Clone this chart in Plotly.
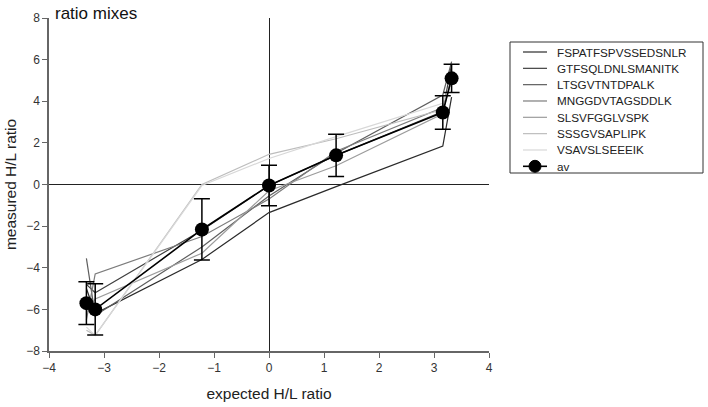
import plotly.graph_objects as go

expected = [-3.32, -3.16, -1.22, 0.0, 1.22, 3.16, 3.32]

peptides = ["FSPATFSPVSSEDSNLR", "GTFSQLDNLSMANITK", "LTSGVTNTDPALK",
            "MNGGDVTAGSDDLK", "SLSVFGGLVSPK", "SSSGVSAPLIPK", "VSAVSLSEEEIK"]

pep_values = [
    [-5.0, -6.2, -3.6, -1.35, -0.1, 1.85, 4.2],
    [-4.8, -5.2, -2.2, -0.05, 1.4, 3.5, 5.8],
    [-3.55, -6.3, -3.0, -0.55, 1.5, 4.3, 5.9],
    [-6.5, -4.3, -2.5, -0.7, 1.6, 3.7, 5.0],
    [-6.2, -5.5, -3.3, -0.3, 0.9, 3.4, 5.2],
    [-7.0, -7.25, 0.0, 1.45, 2.2, 3.6, 5.0],
    [-6.85, -7.25, -0.05, 1.25, 2.3, 3.9, 4.95],
]

pep_colors = ["#2a2a2a", "#404040", "#5e5e5e", "#7c7c7c", "#9c9c9c", "#bdbdbd", "#d8d8d8"]

av_values = [-5.7, -6.0, -2.16, -0.05, 1.4, 3.46, 5.1]
av_err = [1.03, 1.23, 1.47, 0.97, 1.02, 0.8, 0.68]

# target plot-area geometry in pixels
L, R, T, B = 49, 489, 18, 351
W_FIG, H_FIG = 708, 407


def px(xp):
    return (xp - L) / (R - L)


def py(yp):
    return (B - yp) / (B - T)


fig = go.Figure()
for name, vals, col in zip(peptides, pep_values, pep_colors):
    fig.add_trace(go.Scatter(x=expected, y=vals, mode="lines", name=name,
                             line=dict(color=col, width=1.2), showlegend=False))

fig.add_trace(go.Scatter(x=expected, y=av_values, mode="lines+markers", name="av",
                         line=dict(color="black", width=1.6),
                         marker=dict(color="black", size=14), showlegend=False,
                         error_y=dict(type="data", array=av_err, visible=True,
                                      color="black", thickness=1.5, width=8)))

axis_common = dict(showgrid=False, showline=True, linecolor="#666", linewidth=1.5,
                   ticks="outside", ticklen=5, tickcolor="#666", tickwidth=1,
                   zeroline=True, zerolinecolor="#222", zerolinewidth=1,
                   tickfont=dict(family="Liberation Sans, Arial", size=12, color="#333"),
                   mirror=False, automargin=False)

# manual legend (entries drawn in paper coordinates)
shapes = [dict(type="rect", xref="paper", yref="paper",
               x0=px(510), x1=px(703), y0=py(173), y1=py(42),
               line=dict(color="#333", width=1))]
annotations = [dict(text="ratio mixes", xref="paper", yref="paper",
                    x=px(53), y=py(13), xanchor="left", yanchor="middle",
                    showarrow=False, font=dict(size=17, color="#111"))]
labels = peptides + ["av"]
colors = pep_colors + ["black"]
for i, (lab, col) in enumerate(zip(labels, colors)):
    yy = 52 + i * 16.33
    shapes.append(dict(type="line", xref="paper", yref="paper",
                       x0=px(523), x1=px(547), y0=py(yy), y1=py(yy),
                       line=dict(color=col, width=1.6 if lab == "av" else 1.2)))
    annotations.append(dict(text=lab, xref="paper", yref="paper",
                            x=px(555), y=py(yy), xanchor="left", yanchor="middle",
                            showarrow=False,
                            font=dict(family="Liberation Sans, Arial", size=11.7, color="#222")))
yy = 52 + 7 * 16.33
shapes.append(dict(type="circle", xref="paper", yref="paper",
                   x0=px(529), x1=px(541), y0=py(yy + 6), y1=py(yy - 6),
                   fillcolor="black", line=dict(color="black", width=1)))

fig.update_layout(
    width=W_FIG, height=H_FIG,
    margin=dict(l=L, r=W_FIG - R, t=T, b=H_FIG - B),
    paper_bgcolor="white", plot_bgcolor="white",
    font=dict(family="Liberation Sans, Arial", color="#222"),
    xaxis=dict(range=[-4, 4], dtick=1,
               title=dict(text="expected H/L ratio", font=dict(size=15.5), standoff=14),
               **axis_common),
    yaxis=dict(range=[-8, 8], dtick=2,
               title=dict(text="measured H/L ratio", font=dict(size=15.5), standoff=6),
               **axis_common),
    showlegend=False,
    annotations=annotations,
    shapes=shapes,
)

fig.write_html("out.html", config={"displayModeBar": False},
               post_script="document.body.style.margin='0';")
